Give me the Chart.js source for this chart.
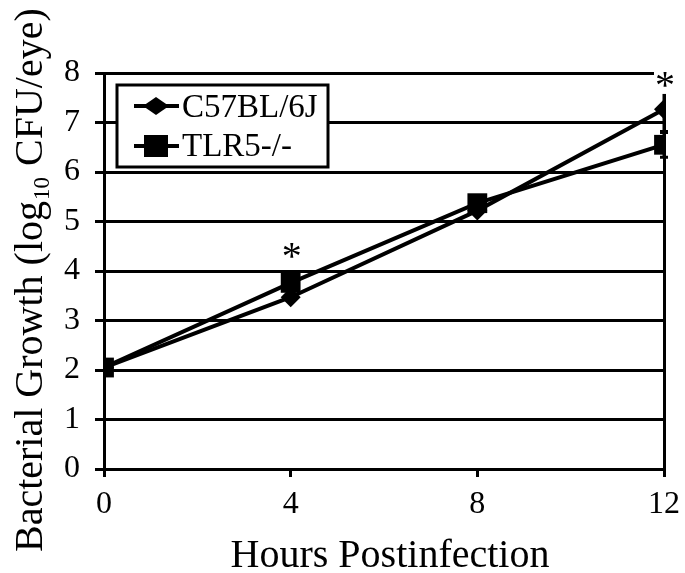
<!DOCTYPE html>
<html><head><meta charset="utf-8">
<script src="https://cdn.jsdelivr.net/npm/chart.js@4"></script>
<style>html,body{margin:0;padding:0;background:#fff}#wrap{width:685px;height:573px;position:relative}</style>
</head><body><div id="wrap"><canvas id="c" width="685" height="573"></canvas></div>
<script>
const hours = [0, 4, 8, 12];
const c57 = [2.05, 3.47, 5.22, 7.27];
const tlr5 = [2.05, 3.76, 5.37, 6.55];
const c57Err = [0, 0, 0, 0.45];
const tlr5Err = [0, 0, 0, 0.25];
const xTicks = [0, 4, 8, 12];
const yTicks = [0, 1, 2, 3, 4, 5, 6, 7, 8];
const seriesNames = ['C57BL/6J', 'TLR5-/-'];
const sigHours = [4, 12];
const sigLevel = [4.42, 7.86];
const xTitle = 'Hours Postinfection';
const yTitleParts = ['Bacterial Growth (log', '10', ' CFU/eye)'];

const SERIF = '"Liberation Serif", "Times New Roman", serif';

const extras = {
  id: 'extras',
  beforeDatasetsDraw(chart) {
    const ctx = chart.ctx, xs = chart.scales.x, ys = chart.scales.y;
    ctx.save();
    ctx.strokeStyle = '#000';
    ctx.lineWidth = 3;
    [[c57, c57Err], [tlr5, tlr5Err]].forEach(([vals, errs]) => {
      hours.forEach((h, i) => {
        if (!errs[i]) return;
        const x = xs.getPixelForValue(h);
        const y1 = ys.getPixelForValue(vals[i] + errs[i]);
        const y2 = ys.getPixelForValue(vals[i] - errs[i]);
        ctx.beginPath();
        ctx.moveTo(x, y1); ctx.lineTo(x, y2);
        ctx.moveTo(x - 4, y1); ctx.lineTo(x + 4, y1);
        ctx.moveTo(x - 4, y2); ctx.lineTo(x + 4, y2);
        ctx.stroke();
      });
    });
    ctx.restore();
  },
  afterDraw(chart) {
    const ctx = chart.ctx, xs = chart.scales.x, ys = chart.scales.y, ca = chart.chartArea;
    ctx.save();
    // asterisks
    ctx.font = '40px ' + SERIF;
    ctx.textAlign = 'center';
    ctx.textBaseline = 'alphabetic';
    sigHours.forEach((h, i) => {
      const x = xs.getPixelForValue(h);
      const y = ys.getPixelForValue(sigLevel[i]);
      const m = ctx.measureText('*');
      const asc = m.actualBoundingBoxAscent, desc = m.actualBoundingBoxDescent;
      const base = y + (asc - desc) / 2;
      ctx.fillStyle = '#fff';
      ctx.fillRect(x - 10, y - 14, 22, 28);
      ctx.fillStyle = '#000';
      ctx.fillText('*', x + 1, base);
    });
    // legend
    const lx = 117, ly = 85, lw = 211, lh = 82;
    ctx.fillStyle = '#fff';
    ctx.fillRect(lx, ly, lw, lh);
    ctx.strokeStyle = '#000';
    ctx.lineWidth = 3;
    ctx.strokeRect(lx, ly, lw, lh);
    const rows = [106, 146];
    const bases = [117, 156];
    rows.forEach((ry, i) => {
      ctx.lineWidth = 4;
      ctx.beginPath(); ctx.moveTo(134, ry); ctx.lineTo(179, ry); ctx.stroke();
      ctx.fillStyle = '#000';
      ctx.beginPath();
      if (i === 0) {
        ctx.moveTo(143, ry); ctx.lineTo(156, ry - 9); ctx.lineTo(169, ry); ctx.lineTo(156, ry + 9); ctx.closePath();
      } else {
        ctx.rect(144, ry - 11, 24, 22);
      }
      ctx.fill();
      ctx.font = '33px ' + SERIF;
      ctx.textAlign = 'left';
      ctx.textBaseline = 'alphabetic';
      ctx.fillText(seriesNames[i], 182, bases[i]);
    });
    // x title
    ctx.font = '40px ' + SERIF;
    ctx.textAlign = 'center';
    ctx.fillText(xTitle, (ca.left + ca.right) / 2 + 6, 567);
    // y title
    ctx.translate(42, 552);
    ctx.rotate(-Math.PI / 2);
    ctx.textAlign = 'left';
    let px = 0;
    ctx.font = '40px ' + SERIF;
    ctx.fillText(yTitleParts[0], px, 0);
    px += ctx.measureText(yTitleParts[0]).width;
    ctx.font = '23px ' + SERIF;
    ctx.fillText(yTitleParts[1], px + 1, 7);
    px += ctx.measureText(yTitleParts[1]).width + 2;
    ctx.font = '40px ' + SERIF;
    ctx.fillText(yTitleParts[2], px, 0);
    ctx.restore();
  }
};

const mk = (vals) => hours.map((h, i) => ({ x: h, y: vals[i] }));

new Chart(document.getElementById('c'), {
  type: 'line',
  data: {
    datasets: [
      { label: seriesNames[0], data: mk(c57), borderColor: '#000', backgroundColor: '#000', borderWidth: 4,
        pointStyle: 'rectRot', pointRadius: 10, pointHoverRadius: 10, pointBorderWidth: 0, tension: 0 },
      { label: seriesNames[1], data: mk(tlr5), borderColor: '#000', backgroundColor: '#000', borderWidth: 4,
        pointStyle: 'rect', pointRadius: 14, pointHoverRadius: 14, pointBorderWidth: 0, tension: 0 }
    ]
  },
  options: {
    responsive: false,
    animation: false,
    events: [],
    layout: { padding: { top: 73, right: 21, left: 0, bottom: 0 } },
    plugins: { legend: { display: false }, tooltip: { enabled: false }, title: { display: false } },
    scales: {
      x: {
        type: 'linear', min: 0, max: 12,
        afterBuildTicks: (s) => { s.ticks = xTicks.map(v => ({ value: v })); },
        afterFit: (s) => { s.height = 104; s.paddingRight = 0; s.paddingLeft = 0; },
        grid: {
          color: (c) => (c.tick && c.tick.value === 12) ? '#000' : 'rgba(0,0,0,0)',
          lineWidth: 3, tickColor: '#000', tickLength: 8, drawOnChartArea: true, drawTicks: true
        },
        border: { display: true, color: '#000', width: 3 },
        ticks: { color: '#000', font: { family: SERIF, size: 32 }, padding: 8, maxRotation: 0, autoSkip: false }
      },
      y: {
        min: 0, max: 8,
        afterBuildTicks: (s) => { s.ticks = yTicks.map(v => ({ value: v })); },
        afterFit: (s) => { s.width = 104; s.paddingTop = 0; s.paddingBottom = 0; },
        grid: { color: '#000', lineWidth: 3, tickColor: '#000', tickLength: 9, drawTicks: true },
        border: { display: true, color: '#000', width: 3 },
        ticks: { color: '#000', font: { family: SERIF, size: 32 }, padding: 15, autoSkip: false }
      }
    }
  },
  plugins: [extras]
});
</script></body></html>
